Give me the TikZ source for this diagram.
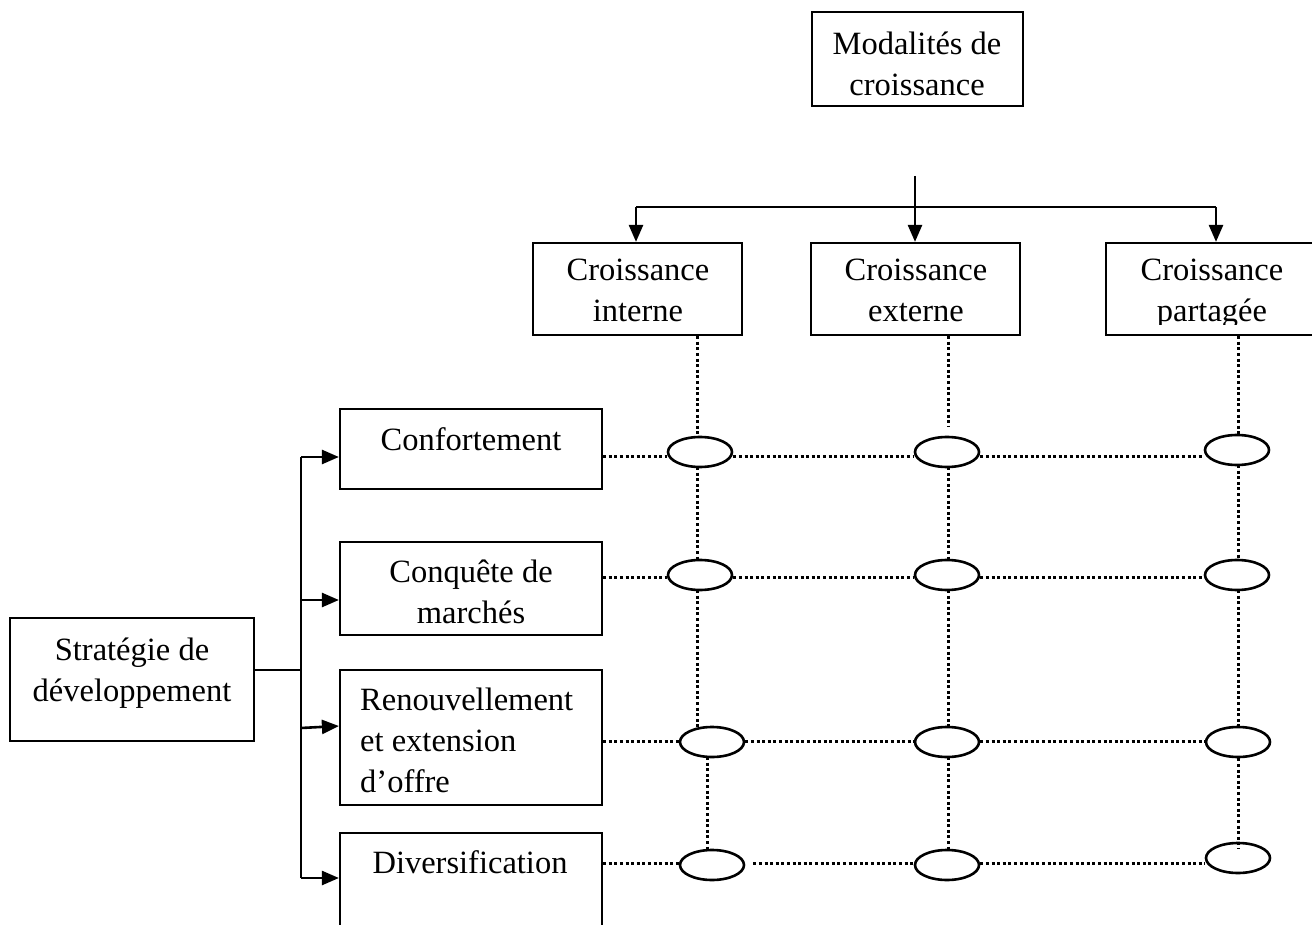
\documentclass[tikz,border=0pt]{standalone}
\usepackage{fontspec}
\setmainfont{Liberation Serif}
\usetikzlibrary{shapes.geometric,arrows.meta}
\begin{document}
\begin{tikzpicture}[x=1pt,y=-1pt,
  box/.style={draw, line width=2.2pt, inner sep=0pt},
  txt/.style={font=\fontsize{32.5}{41}\selectfont, inner sep=0pt, align=center, anchor=north},
  ell/.style={ellipse, draw, line width=2.6pt, minimum width=64pt, minimum height=30pt, inner sep=0pt, fill=white},
  conn/.style={line width=2.6pt},
  arr/.style={conn, -{Triangle[length=17pt,width=14pt]}},
  dots/.style={line width=3pt, dash pattern=on 3pt off 2.6pt}
]
\useasboundingbox (0,0) rectangle (1312,925);

% boxes
\node[box, minimum width=211pt, minimum height=94pt] (top) at (917.5,59) {};
\node[box, minimum width=209pt, minimum height=92pt] (ci) at (637.5,289) {};
\node[box, minimum width=209pt, minimum height=92pt] (ce) at (915.5,289) {};
\node[box, minimum width=212pt, minimum height=92pt] (cp) at (1212,289) {};
\node[box, minimum width=262pt, minimum height=80pt] (conf) at (471,449) {};
\node[box, minimum width=262pt, minimum height=93pt] (conq) at (471,588.5) {};
\node[box, minimum width=262pt, minimum height=135pt] (ren) at (471,737.5) {};
\node[box, minimum width=262pt, minimum height=126pt] (div) at (471,896) {};
\node[box, minimum width=244pt, minimum height=123pt] (strat) at (132,679.5) {};

% texts
\node[txt] (ttop) at (917,25.3) {\strut Modalités de\\croissance};
\node[txt] (tci) at (638,251.3) {\strut Croissance\\interne};
\node[txt] (tce) at (916,251.3) {\strut Croissance\\externe};
\begin{scope}
\clip (1100,240) rectangle (1312,325);
\node[txt] (tcp) at (1212,251.3) {\strut Croissance\\partagée};
\end{scope}
\node[txt] (tconf) at (471,421.3) {\strut Confortement};
\node[txt] (tconq) at (471,553.3) {\strut Conquête de\\marchés};
\node[txt, align=left, anchor=north west] (tren) at (360,681.3) {\strut Renouvellement\\et extension\\d’offre};
\node[txt] (tdiv) at (470,844.3) {\strut Diversification};
\node[txt] (tstrat) at (132,631.3) {\strut Stratégie de\\développement};

% top connectors
\coordinate (ts) at (915,176);
\coordinate (hl) at (636,207);
\coordinate (hr) at (1216,207);
\draw[arr] (ts) -- (ce.north -| ts);
\draw[conn] (hl) -- (hr);
\draw[arr] (hl) -- (ci.north -| hl);
\draw[arr] (hr) -- (cp.north -| hr);

% left connectors
\coordinate (bj) at (301,670);
\coordinate (b1) at (301,457);
\coordinate (b2) at (301,600);
\coordinate (b3) at (301,728);
\coordinate (b4) at (301,878);
\draw[conn] (strat.east |- bj) -- (bj);
\draw[conn] (b1) -- (b4);
\draw[arr] (b1) -- (conf.west |- b1);
\draw[arr] (b2) -- (conq.west |- b2);
\draw[arr] (b3) -- (ren.west |- 0,726);
\draw[arr] (b4) -- (div.west |- b4);

% rows and columns
\coordinate (r1) at (0,456);
\coordinate (r2) at (0,577);
\coordinate (r3) at (0,741);
\coordinate (r4) at (0,863);
\coordinate (c1) at (697,0);
\coordinate (c2) at (948,0);
\coordinate (c3) at (1238,0);

% vertical dotted
\draw[dots] (ci.south -| c1) -- (697,437);
\draw[dots] (697,467) -- (697,560);
\draw[dots] (697,590) -- (697,728);
\draw[dots] (707,757) -- (707,849);
\draw[dots] (ce.south -| c2) -- (948,427);
\draw[dots] (948,467) -- (948,560);
\draw[dots] (948,590) -- (948,727);
\draw[dots] (948,757) -- (948,850);
\draw[dots] (cp.south -| c3) -- (1238,435);
\draw[dots] (1238,465) -- (1238,560);
\draw[dots] (1238,590) -- (1238,727);

\node[ell] (e11) at (700,452) {};
\node[ell] (e12) at (947,452) {};
\node[ell] (e13) at (1237,450) {};
\node[ell] (e21) at (700,575) {};
\node[ell] (e22) at (947,575) {};
\node[ell] (e23) at (1237,575) {};
\node[ell] (e31) at (712,742) {};
\node[ell] (e32) at (947,742) {};
\node[ell] (e33) at (1238,742) {};
\node[ell] (e41) at (712,865) {};
\node[ell] (e42) at (947,865) {};
\node[ell] (e43) at (1238,858) {};

\draw[dots] (e33.south) -- (1238,849);

% horizontal dotted
\draw[dots] (conf.east |- r1) -- (e11.west |- r1);
\draw[dots] (e11.east |- r1) -- (e12.west |- r1);
\draw[dots] (e12.east |- r1) -- (e13.west |- r1);
\draw[dots] (conq.east |- r2) -- (e21.west |- r2);
\draw[dots] (e21.east |- r2) -- (e22.west |- r2);
\draw[dots] (e22.east |- r2) -- (e23.west |- r2);
\draw[dots] (ren.east |- r3) -- (e31.west |- r3);
\draw[dots] (e31.east |- r3) -- (e32.west |- r3);
\draw[dots] (e32.east |- r3) -- (e33.west |- r3);
\draw[dots] (div.east |- r4) -- (e41.west |- r4);
\draw[dots] ([xshift=8pt]e41.east |- r4) -- (e42.west |- r4);
\draw[dots] (e42.east |- r4) -- (e43.west |- r4);
\end{tikzpicture}
\end{document}
